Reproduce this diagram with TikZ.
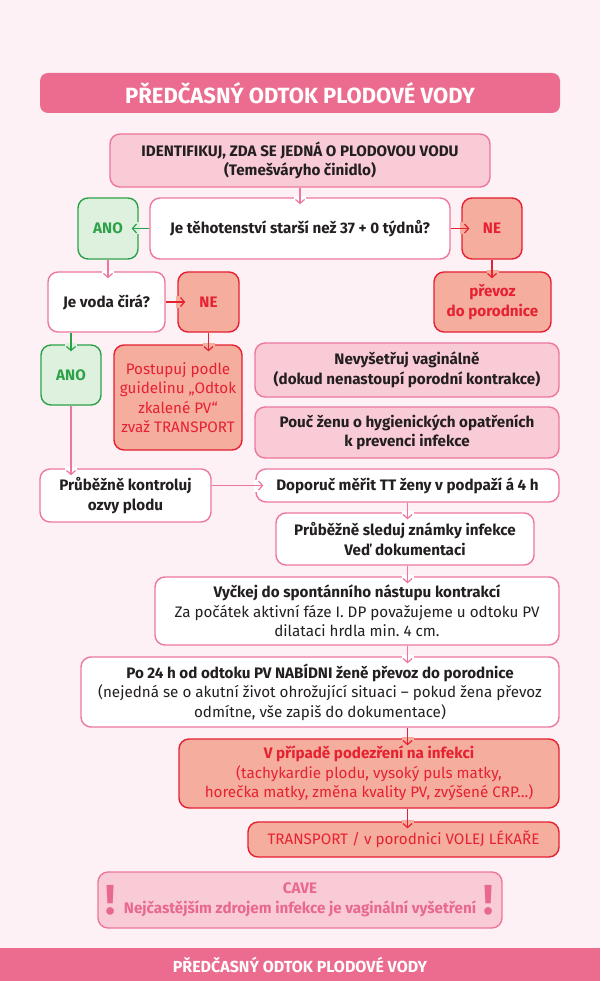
\documentclass[tikz,border=0pt]{standalone}
\usepackage{fontspec}
\setmainfont{Fira Sans}
\usetikzlibrary{arrows.meta, positioning}
\frenchspacing

\definecolor{bgpink}{RGB}{253,241,245}
\definecolor{barpink}{RGB}{236,108,144}
\definecolor{lightpink}{RGB}{249,203,215}
\definecolor{linepink}{RGB}{237,120,155}
\definecolor{anogreen}{RGB}{44,162,72}
\definecolor{anofill}{RGB}{222,241,223}
\definecolor{nered}{RGB}{229,33,50}
\definecolor{nefill}{RGB}{245,173,157}
\definecolor{textdark}{RGB}{35,31,32}
\definecolor{cavetext}{RGB}{232,104,142}

\begin{document}
\begin{tikzpicture}[
    x=1pt, y=-1pt,
    font=\fontsize{15.2}{19.5}\selectfont,
    >={Straight Barb[length=4pt,width=9pt]},
    box/.style={draw=linepink, line width=1.4pt, rounded corners=10pt, fill=white,
      align=center, text=textdark, inner sep=2pt},
    pinkbox/.style={box, fill=lightpink},
    anobox/.style={box, draw=anogreen, fill=anofill, text=anogreen, font=\fontsize{15.2}{19.5}\selectfont\bfseries},
    nebox/.style={box, draw=nered, fill=nefill, text=nered},
    bar/.style={fill=barpink, text=white, font=\fontsize{22}{24}\selectfont\bfseries},
    link/.style={->, line width=1.2pt, linepink},
    yeslink/.style={link, anogreen},
    nolink/.style={link, nered},
    gap/.style={line width=2.6pt, draw=#1},
  ]
  \useasboundingbox (0,0) rectangle (600,981);
  \fill[bgpink] (0,0) rectangle (600,981);

  %% ---- header ---------------------------------------------------------
  \node[bar, rounded corners=8pt, minimum width=520pt, minimum height=40pt] (title) at (300,93)
    {PŘEDČASNÝ ODTOK PLODOVÉ VODY};

  %% ---- decisions ------------------------------------------------------
  \node[pinkbox, font=\fontsize{15.2}{19.5}\selectfont\bfseries, minimum width=380pt, minimum height=53pt] (ident) at (300,160.5)
    {IDENTIFIKUJ, ZDA SE JEDNÁ O PLODOVOU VODU\\(Temešváryho činidlo)};
  \node[box, font=\fontsize{15.2}{19.5}\selectfont\bfseries, minimum width=300pt, minimum height=61pt] (weeks) at (300,228.5)
    {Je těhotenství starší než 37 + 0 týdnů?};
  \node[anobox, minimum width=60pt, minimum height=61pt] (ano1) at (108,228.5) {ANO};
  \node[nebox, font=\fontsize{15.2}{19.5}\selectfont\bfseries, minimum width=60pt, minimum height=61pt] (ne1) at (492,228.5) {NE};
  \node[nebox, font=\fontsize{15.2}{19.5}\selectfont\bfseries, minimum width=117pt, minimum height=60pt] (prevoz) at (492.5,302)
    {převoz\\do porodnice};
  \node[box, font=\fontsize{15.2}{19.5}\selectfont\bfseries, minimum width=117pt, minimum height=60pt] (clear) at (106.5,302)
    {Je voda čirá?};
  \node[nebox, font=\fontsize{15.2}{19.5}\selectfont\bfseries, minimum width=61pt, minimum height=60pt] (ne2) at (208.5,302) {NE};
  \node[anobox, minimum width=60pt, minimum height=60pt] (ano2) at (71,375) {ANO};
  \node[nebox, minimum width=128pt, minimum height=105pt] (guide) at (178,397.5)
    {Postupuj podle\\guidelinu „Odtok\\zkalené PV“\\zvaž TRANSPORT};

  %% ---- care steps -----------------------------------------------------
  \node[pinkbox, font=\fontsize{15.2}{19.5}\selectfont\bfseries, minimum width=304pt, minimum height=54pt] (novag) at (407,370)
    {Nevyšetřuj vaginálně\\(dokud nenastoupí porodní kontrakce)};
  \node[pinkbox, font=\fontsize{15.2}{19.5}\selectfont\bfseries, minimum width=304pt, minimum height=51pt] (hygiene) at (407,432.5)
    {Pouč ženu o hygienických opatřeních\\k prevenci infekce};
  \node[box, font=\fontsize{15.2}{19.5}\selectfont\bfseries, minimum width=171pt, minimum height=53pt] (fetal) at (125.5,495.5)
    {Průběžně kontroluj\\ozvy plodu};
  \node[box, font=\fontsize{15.2}{19.5}\selectfont\bfseries, minimum width=303pt, minimum height=33pt] (temp) at (407.5,485.5)
    {Doporuč měřit TT ženy v podpaží á 4 h};
  \node[box, font=\fontsize{15.2}{19.5}\selectfont\bfseries, minimum width=258pt, minimum height=52pt] (watch) at (405,539)
    {Průběžně sleduj známky infekce\\Veď dokumentaci};
  \node[box, minimum width=404pt, minimum height=68pt] (wait) at (357,611)
    {\textbf{Vyčkej do spontánního nástupu kontrakcí}\\Za počátek aktivní fáze I. DP považujeme u odtoku PV\\dilataci hrdla min. 4 cm.};
  \node[box, minimum width=478pt, minimum height=70pt] (offer) at (320,692)
    {\textbf{Po 24 h od odtoku PV NABÍDNI ženě převoz do porodnice}\\(nejedná se o akutní život ohrožující situaci – pokud žena převoz\\odmítne, vše zapiš do dokumentace)};
  \node[nebox, minimum width=380pt, minimum height=69pt] (infect) at (369,773.5)
    {\textbf{V případě podezření na infekci}\\(tachykardie plodu, vysoký puls matky,\\horečka matky, změna kvality PV, zvýšené CRP…)};
  \node[nebox, minimum width=311pt, minimum height=35pt] (call) at (403.5,839.5)
    {TRANSPORT / v porodnici VOLEJ LÉKAŘE};

  %% ---- warning and footer ---------------------------------------------
  \node[pinkbox, text=cavetext, font=\fontsize{15.2}{19.5}\selectfont\bfseries, minimum width=404pt, minimum height=56pt] (cave) at (300,900)
    {CAVE\\Nejčastějším zdrojem infekce je vaginální vyšetření};
  \node[text=cavetext, font=\fontsize{42}{42}\selectfont\bfseries] (excl1) at (111,900) {!};
  \node[text=cavetext, font=\fontsize{42}{42}\selectfont\bfseries] (excl2) at (489,900) {!};
  \node[bar, font=\fontsize{16}{18}\selectfont\bfseries, minimum width=600pt, minimum height=33pt] (footer) at (300,964.5)
    {PŘEDČASNÝ ODTOK PLODOVÉ VODY};

  %% ---- gaps where arrows enter ------------------------------------------
  \draw[gap=white] ([xshift=-6pt]weeks.north) -- ([xshift=6pt]weeks.north);
  \draw[gap=anofill] ([yshift=-6pt]ano1.east) -- ([yshift=6pt]ano1.east);
  \draw[gap=nefill] ([yshift=-6pt]ne1.west) -- ([yshift=6pt]ne1.west);
  \draw[gap=nefill] ([xshift=-6pt]prevoz.north) -- ([xshift=6pt]prevoz.north);
  \draw[gap=white] ([xshift=-6pt]ano1.south |- clear.north) -- ([xshift=6pt]ano1.south |- clear.north);
  \draw[gap=nefill] ([yshift=-6pt]ne2.west) -- ([yshift=6pt]ne2.west);
  \draw[gap=anofill] ([xshift=-6pt]ano2.north) -- ([xshift=6pt]ano2.north);
  \draw[gap=nefill] ([xshift=-6pt]ne2.south |- guide.north) -- ([xshift=6pt]ne2.south |- guide.north);
  \draw[gap=white] ([xshift=-6pt]ano2.south |- fetal.north) -- ([xshift=6pt]ano2.south |- fetal.north);
  \draw[gap=white] ([yshift=-6pt]temp.west) -- ([yshift=6pt]temp.west);
  \draw[gap=white] ([xshift=-6pt]temp.south |- watch.north) -- ([xshift=6pt]temp.south |- watch.north);
  \draw[gap=white] ([xshift=-6pt]temp.south |- wait.north) -- ([xshift=6pt]temp.south |- wait.north);
  \draw[gap=white] ([xshift=-6pt]temp.south |- offer.north) -- ([xshift=6pt]temp.south |- offer.north);
  \draw[gap=nefill] ([xshift=-6pt]temp.south |- infect.north) -- ([xshift=6pt]temp.south |- infect.north);
  \draw[gap=nefill] ([xshift=-6pt]temp.south |- call.north) -- ([xshift=6pt]temp.south |- call.north);

  %% ---- arrows -----------------------------------------------------------
  \draw[link] (ident.south) -- ([yshift=-7pt]weeks.north);
  \draw[yeslink] (weeks.west) -- ([xshift=-7pt]ano1.east);
  \draw[nolink] (weeks.east) -- ([xshift=8pt]ne1.west);
  \draw[nolink] (ne1.south) -- ([yshift=-7pt]ne1.south |- prevoz.north);
  \draw[link] (ano1.south) -- ([yshift=-7pt]ano1.south |- clear.north);
  \draw[nolink] (clear.east) -- ([xshift=8pt]ne2.west);
  \draw[yeslink] (ano2.north |- clear.south) -- ([yshift=-7pt]ano2.north);
  \draw[nolink] (ne2.south) -- ([yshift=-7pt]ne2.south |- guide.north);
  \draw[link] (ano2.south) -- ([yshift=-7pt]ano2.south |- fetal.north);
  \draw[link] (fetal.east |- temp.west) -- ([xshift=8pt]temp.west);
  \draw[link] (temp.south) -- ([yshift=-7pt]temp.south |- watch.north);
  \draw[link] (watch.south -| temp.south) -- ([yshift=-7pt]temp.south |- wait.north);
  \draw[link] (wait.south -| temp.south) -- ([yshift=-7pt]temp.south |- offer.north);
  \draw[nolink] (offer.south -| temp.south) -- ([yshift=-7pt]temp.south |- infect.north);
  \draw[nolink] (infect.south -| temp.south) -- ([yshift=-7pt]temp.south |- call.north);
\end{tikzpicture}
\end{document}
